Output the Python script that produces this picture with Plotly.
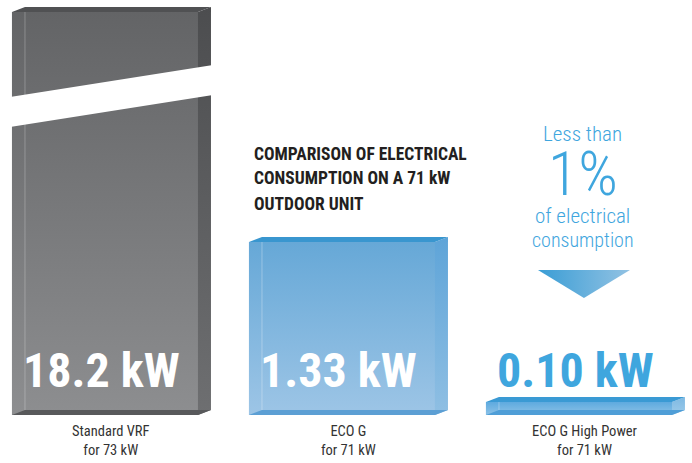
import plotly.graph_objects as go

# ---------------- data ----------------
categories = ["Standard VRF", "ECO G", "ECO G High Power"]
capacities = ["for 73 kW", "for 71 kW", "for 71 kW"]
consumption_kw = [18.2, 1.33, 0.10]
value_labels = ["18.2 kW", "1.33 kW", "0.10 kW"]
title_lines = ["COMPARISON OF ELECTRICAL", "CONSUMPTION ON A 71 kW", "OUTDOOR UNIT"]
callout_lines = ["Less than", "1%", "of electrical", "consumption"]

# ---------------- geometry helpers ----------------
W, H = 692, 463
MB = 48
PLOT_H = H - MB
Y_MAX = 3.19
X_MIN, X_MAX = -0.443, 2.477
PX_X = W / (X_MAX - X_MIN)
PX_Y = PLOT_H / Y_MAX


def dxp(p):
    return p / PX_X


def dyp(p):
    return p / PX_Y


def ypaper(py):
    return (PLOT_H - py) / PLOT_H


BAR_W = dxp(186)
DX, DY = dxp(13), dyp(5)
Y_CAP = dyp(403)  # broken axis: tall bar is cut at the top of the chart
disp = [min(v, Y_CAP) for v in consumption_kw]
xs = list(range(len(categories)))

FONT = "Roboto Condensed, Roboto, Liberation Sans Narrow, sans-serif"
BLUE_TXT = "#3fa6de"

styles = [
    dict(front=("#8d8e90", "#636466"), side=("#6e6f71", "#4c4d4f"), top="#505153",
         bottom="#58595b", edge="rgba(255,255,255,0.25)"),
    dict(front=("#9dc5e6", "#66a8d7"), side=("#8fbfe3", "#5ea4d8"), top="#3996cf",
         bottom="#5c9fd4", edge="rgba(255,255,255,0.3)"),
    dict(front=("#8cc2e7", "#5eaadf"), side=("#9ccbea", "#7fb9e2"), top="#3a9ad4",
         bottom="#4f9ed7", edge="rgba(255,255,255,0.3)"),
]

fig = go.Figure()

# main bars (front faces)
fig.add_trace(go.Bar(
    x=xs, y=disp, width=BAR_W,
    marker=dict(color=[s["front"][1] for s in styles], line=dict(width=0)),
    hoverinfo="skip", showlegend=False,
))


def poly(xv, yv, color=None, grad=None, gtype="vertical"):
    kw = dict(x=xv, y=yv, mode="lines", fill="toself", line=dict(width=0),
              hoverinfo="skip", showlegend=False)
    if grad:
        kw["fillgradient"] = dict(type=gtype, colorscale=[[0, grad[0]], [1, grad[1]]])
        kw["fillcolor"] = grad[1]
    else:
        kw["fillcolor"] = color
    fig.add_trace(go.Scatter(**kw))


for i, h in zip(xs, disp):
    s = styles[i]
    x0, x1 = i - BAR_W / 2, i + BAR_W / 2
    poly([x0, x1, x1, x0, x0], [0, 0, h, h, 0], grad=s["front"])
    poly([x1, x1 + DX, x1 + DX, x1, x1], [0, DY, h + DY, h, 0], grad=s["side"])
    poly([x0, x0 + DX, x1 + DX, x1, x0], [h, h + DY, h + DY, h, h], color=s["top"])
    poly([x0, x0 + DX, x1 + DX, x1, x0], [0, DY, DY, 0, 0], color=s["bottom"])
    fig.add_trace(go.Scatter(x=[x0 + DX, x0 + DX], y=[DY, h], mode="lines",
                             line=dict(color=s["edge"], width=1),
                             hoverinfo="skip", showlegend=False))

# break band on the tall bar
bx0 = xs[0] - BAR_W / 2 - dxp(2)
bx1 = xs[0] + BAR_W / 2 + DX + dxp(2)
poly([bx0, bx1, bx1, bx0, bx0],
     [dyp(288), dyp(320), dyp(350), dyp(318), dyp(288)], color="white")

# arrow of the callout
cx = xs[2] + dxp(4)
poly([cx - dxp(45), cx + dxp(47), cx + dxp(1), cx - dxp(45)],
     [dyp(145), dyp(145), dyp(117), dyp(145)],
     grad=("#3a9dd5", "#92c2e3"), gtype="horizontal")

ann = []
for i, lab in enumerate(value_labels):
    ann.append(dict(x=i - BAR_W / 2 + dxp(9), y=ypaper(370.5), xref="x", yref="paper",
                    text=f"<b>{lab}</b>", showarrow=False, xanchor="left", yanchor="middle",
                    font=dict(family=FONT, size=48,
                              color="white" if i < 2 else BLUE_TXT)))
for i, (c, cap) in enumerate(zip(categories, capacities)):
    ann.append(dict(x=i + DX / 2, y=ypaper(440.5), xref="x", yref="paper",
                    text=f"{c}<br>{cap}", showarrow=False, xanchor="center",
                    yanchor="middle", align="center",
                    font=dict(family=FONT, size=14.5, color="#333333")))
for t, yc in zip(title_lines, [154, 178.5, 203.5]):
    ann.append(dict(x=xs[1] - BAR_W / 2 + dxp(3), y=ypaper(yc), xref="x", yref="paper",
                    text=f"<b>{t}</b>", showarrow=False, xanchor="left", yanchor="middle",
                    font=dict(family=FONT, size=17.5, color="#231f20")))
for t, yc, sz in zip(callout_lines, [133.5, 174, 216, 240], [21, 62, 21, 20]):
    ann.append(dict(x=cx, y=ypaper(yc), xref="x", yref="paper", text=t,
                    showarrow=False, xanchor="center", yanchor="middle",
                    font=dict(family=FONT, size=sz, color=BLUE_TXT, weight=300)))

fig.update_layout(
    width=W, height=H,
    margin=dict(l=0, r=0, t=0, b=MB),
    paper_bgcolor="white", plot_bgcolor="white",
    xaxis=dict(range=[X_MIN, X_MAX], visible=False, fixedrange=True),
    yaxis=dict(range=[0, Y_MAX], visible=False, fixedrange=True),
    annotations=ann, barmode="overlay", showlegend=False,
)

fig.write_html("out.html", config={"displayModeBar": False},
               post_script="document.body.style.margin='0';")
